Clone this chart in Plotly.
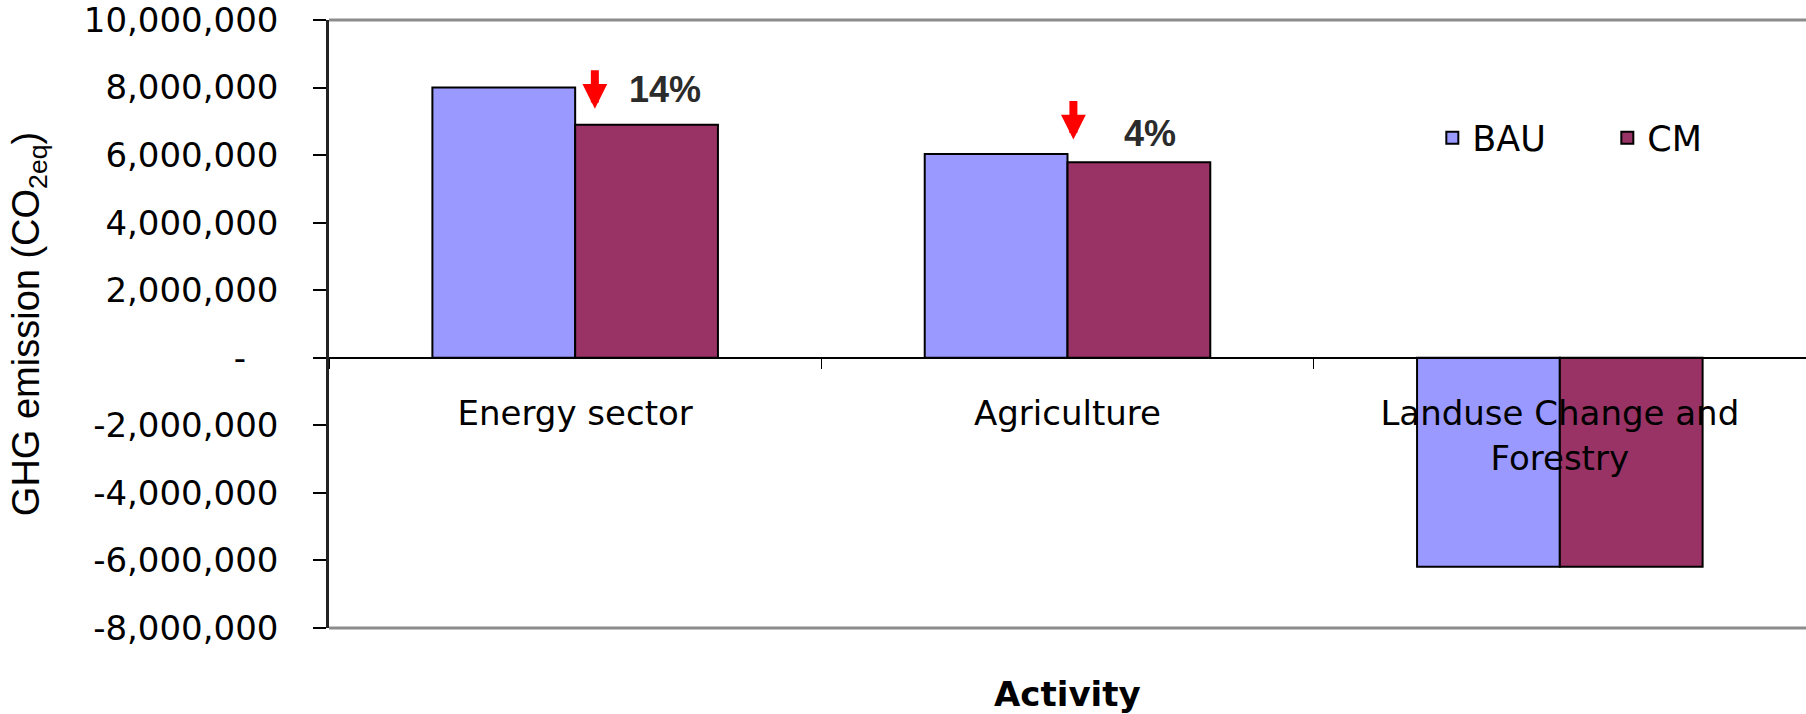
import plotly.graph_objects as go

# Emission totals by activity, business-as-usual vs. climate measures
categories = ["Energy sector", "Agriculture", "Landuse Change and<br>Forestry"]
bau = [8_000_000, 6_030_000, -6_190_000]
cm = [6_900_000, 5_790_000, -6_190_000]

y_tick_values = [10_000_000, 8_000_000, 6_000_000, 4_000_000, 2_000_000, 0,
                 -2_000_000, -4_000_000, -6_000_000, -8_000_000]

NBSP = "\u00a0"
y_tick_text = [f"{v:,}" if v != 0 else "-" + NBSP * 3 for v in y_tick_values]

Y_MIN, Y_MAX = -8_000_000, 10_000_000
REG = "DejaVu Sans, Liberation Sans, Arial, sans-serif"
ARIAL = "Liberation Sans, Arial, sans-serif"
NARROW = "Liberation Sans Narrow, Arial Narrow, Liberation Sans, Arial, sans-serif"

fig = go.Figure()
fig.add_trace(go.Bar(
    x=categories, y=bau, name="BAU",
    marker=dict(color="#9999FF", line=dict(color="#000000", width=2)),
))
fig.add_trace(go.Bar(
    x=categories, y=cm, name="CM",
    marker=dict(color="#993366", line=dict(color="#000000", width=2)),
))

# percentage reduction markers (red arrow + bold label) for the positive sectors
annotations = []
arrow_spots = [(0.04, 7_370_000, 0.183, 7_950_000), (1.012, 6_460_000, 1.167, 6_630_000)]
for i, (ax_x, ax_y, lx, ly) in enumerate(arrow_spots):
    pct = round((bau[i] - cm[i]) / bau[i] * 100)
    annotations.append(dict(
        x=ax_x, y=ax_y, xref="x", yref="y", ax=0, ay=-40, axref="pixel", ayref="pixel",
        text="", showarrow=True, arrowhead=2, arrowsize=0.62, arrowwidth=8,
        arrowcolor="#FF0000",
    ))
    annotations.append(dict(
        x=lx, y=ly, xref="x", yref="y", text=f"<b>{pct}%</b>", showarrow=False,
        font=dict(family=ARIAL, size=36, color="#2b2b2b"),
    ))

annotations.append(dict(
    x=0.5, y=-0.108, xref="paper", yref="paper", text="<b>Activity</b>",
    showarrow=False, yanchor="middle",
    font=dict(family=REG, size=34, color="#000000"),
))

zero_pos = (0 - Y_MIN) / (Y_MAX - Y_MIN)

fig.update_layout(
    width=1806, height=714,
    margin=dict(l=329, r=0, t=20, b=86, autoexpand=False),
    paper_bgcolor="#FFFFFF", plot_bgcolor="#FFFFFF",
    barmode="group", bargap=0.42, bargroupgap=0,
    font=dict(family=REG, size=34, color="#000000"),
    showlegend=True,
    legend=dict(
        orientation="h", x=0.747, xanchor="left", y=0.806, yanchor="middle",
        font=dict(family=REG, size=35, color="#000000"),
        bgcolor="rgba(0,0,0,0)", entrywidth=130, entrywidthmode="pixels",
    ),
    xaxis=dict(
        type="category", anchor="free", position=zero_pos, automargin=False,
        showline=True, linecolor="#000000", linewidth=1.5,
        ticks="outside", tickson="boundaries", ticklen=10, tickcolor="#000000",
        tickwidth=1, showgrid=False, zeroline=False,
        tickfont=dict(family=REG, size=34, color="#000000"),
        ticklabelstandoff=26,
    ),
    yaxis=dict(
        range=[Y_MIN, Y_MAX], tickmode="array", tickvals=y_tick_values,
        ticktext=y_tick_text, showline=True, linecolor="#222222", linewidth=2.5,
        ticks="outside", ticklen=13, tickcolor="#000000", tickwidth=1.5,
        showgrid=False, zeroline=False, ticklabeloverflow="allow", automargin=False,
        tickfont=dict(family=REG, size=34, color="#000000"),
        ticklabelstandoff=28,
        title=dict(text="GHG emission (CO<sub>2eq</sub>)",
                   font=dict(family=NARROW, size=38, color="#000000"), standoff=33),
    ),
    annotations=annotations,
    shapes=[
        dict(type="line", xref="paper", yref="paper", x0=0, x1=1.01, y0=1, y1=1,
             line=dict(color="#8c8c8c", width=3), layer="below"),
        dict(type="line", xref="paper", yref="paper", x0=0, x1=1.01, y0=0, y1=0,
             line=dict(color="#8c8c8c", width=3), layer="below"),
    ],
)

fig.write_html("out.html")
